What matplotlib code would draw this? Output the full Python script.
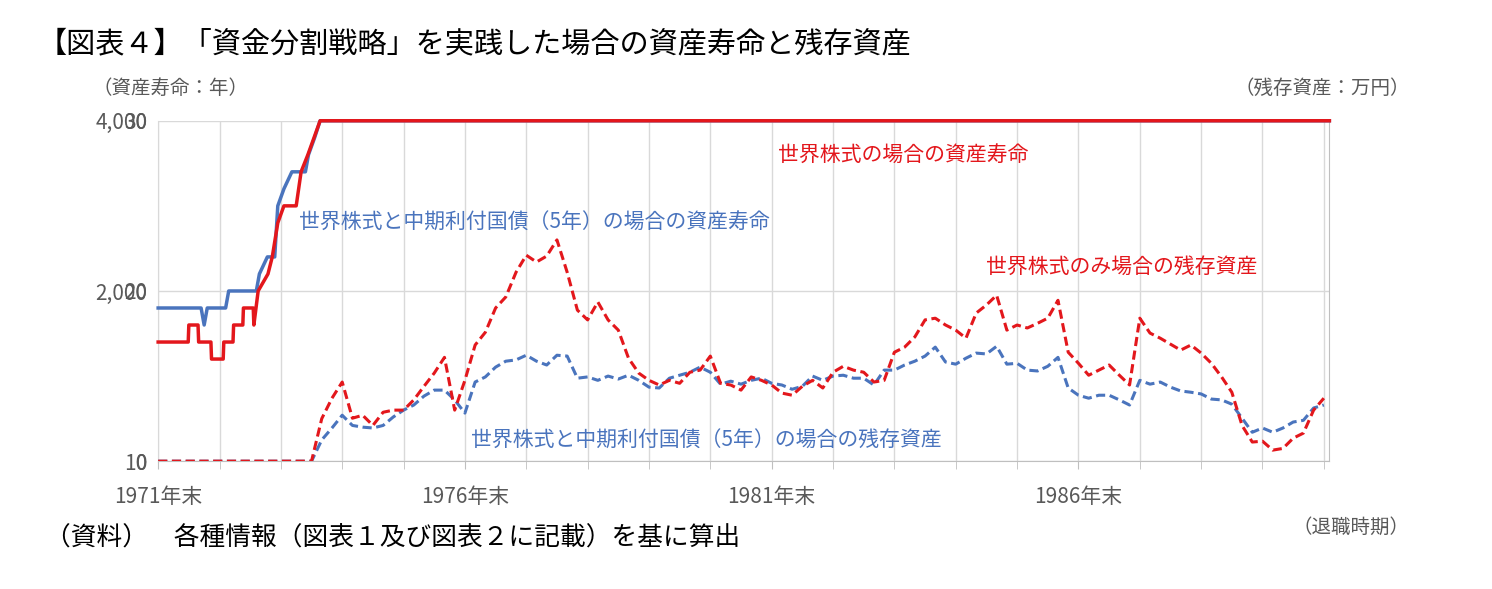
import numpy as np
import matplotlib
matplotlib.use("Agg")
import matplotlib.pyplot as plt

plt.rcParams["font.family"] = "Noto Sans CJK JP"

# lifespan (years since end-1971, asset life in years)
red_life_t = [0, 0.49, 0.50, 0.65, 0.66, 0.86, 0.87, 1.06, 1.07, 1.22, 1.23, 1.38, 1.39, 1.55, 1.56, 1.63, 1.79, 1.86, 1.95, 2.05, 2.25, 2.33, 2.44, 2.54, 2.64, 19.09]
red_life_v = [17, 17, 18, 18, 17, 17, 16, 16, 17, 17, 18, 18, 19, 19, 18, 20, 21, 22, 24, 25, 25, 27, 28, 29, 30, 30]
blue_life_t = [0, 0.70, 0.75, 0.80, 1.10, 1.15, 1.60, 1.65, 1.78, 1.90, 1.95, 2.05, 2.18, 2.40, 2.45, 2.55, 2.64, 19.09]
blue_life_v = [19, 19, 18, 19, 19, 20, 20, 21, 22, 22, 25, 26, 27, 27, 28, 29, 30, 30]

# remaining assets (万円), every 2 months starting 2.5 years after end-1971
rem_start = 2.5
red_rem = [0, 500, 740, 930, 505, 540, 420, 575, 600, 600, 720, 880, 1035, 1220, 600, 950, 1365, 1515, 1800, 1930,
           2220, 2420, 2340, 2410, 2600, 2220, 1775, 1660, 1870, 1660, 1540, 1210, 1035, 950, 895, 950, 915, 1045, 1070, 1235,
           915, 895, 835, 990, 950, 895, 800, 775, 880, 950, 860, 1045, 1115, 1070, 1045, 930, 950, 1280, 1340, 1460,
           1660, 1680, 1600, 1540, 1445, 1740, 1835, 1950, 1540, 1600, 1565, 1620, 1680, 1890, 1280, 1150, 1010, 1070, 1130, 1010,
           895, 1680, 1505, 1445, 1375, 1305, 1365, 1270, 1150, 990, 810, 420, 225, 235, 130, 150, 270, 330, 600, 740]
blue_rem = [0, 250, 390, 540, 420, 400, 390, 420, 520, 600, 660, 765, 835, 835, 720, 565, 930, 990, 1105, 1175,
            1190, 1245, 1175, 1130, 1245, 1235, 975, 990, 950, 1000, 965, 1010, 950, 870, 860, 975, 1010, 1045, 1105, 1045,
            905, 940, 905, 950, 975, 915, 895, 845, 880, 1000, 950, 1000, 1010, 975, 975, 895, 1070, 1070, 1130, 1175,
            1235, 1340, 1165, 1140, 1210, 1270, 1260, 1350, 1140, 1150, 1070, 1060, 1115, 1220, 860, 775, 740, 775, 775, 720,
            660, 950, 905, 930, 870, 825, 810, 790, 730, 720, 670, 505, 340, 390, 340, 390, 460, 480, 625, 660]
rem_t = rem_start + np.arange(len(red_rem)) / 6.0

xticks = [0, 5, 10, 15]
xticklabels = ["1971年末", "1976年末", "1981年末", "1986年末"]

RED = "#e3171c"
BLUE = "#4a74bd"
GRAY = "#595959"

fig = plt.figure(figsize=(14.92, 5.89), dpi=100)
ax = fig.add_axes([0.106, 0.217, 0.785, 0.578])
ax2 = ax.twinx()

ax.set_xlim(0, 19.09)
ax.set_ylim(10, 30)
ax2.set_ylim(0, 4000)
ax.set_yticks([10, 20, 30])
ax2.set_yticks([0, 2000, 4000])
ax2.set_yticklabels(["0", "2,000", "4,000"])
ax.set_xticks(xticks)
ax.set_xticklabels(xticklabels)
ax.set_xticks(np.arange(0, 20, 1), minor=True)
ax.grid(True, which="minor", axis="x", color="#d9d9d9", lw=1)
ax.grid(True, which="major", axis="x", color="#d9d9d9", lw=1)
ax.grid(True, axis="y", color="#d9d9d9", lw=1)
ax.set_axisbelow(True)

for a in (ax, ax2):
    for s in a.spines.values():
        s.set_visible(False)
    a.tick_params(axis="y", length=0, labelsize=15, labelcolor=GRAY, pad=8)
ax2.spines["right"].set_visible(True)
ax2.spines["right"].set_color("#bfbfbf")
ax.spines["left"].set_visible(True)
ax.spines["left"].set_color("#d9d9d9")
ax.spines["bottom"].set_visible(True)
ax.spines["bottom"].set_color("#bfbfbf")
ax.tick_params(axis="x", which="both", length=6, color="#bfbfbf", labelsize=15, labelcolor=GRAY, pad=12)

ax2.plot(np.r_[0, rem_t], np.r_[0, blue_rem], color=BLUE, lw=2.2, ls=(0, (3, 1.5)))
ax2.plot(np.r_[0, rem_t], np.r_[0, red_rem], color=RED, lw=2.2, ls=(0, (3, 1.5)))
# draw lifespan lines on top axes so they are not hidden
ax3 = ax2.twinx()
ax3.set_ylim(10, 30)
ax3.axis("off")
ax3.plot(blue_life_t, blue_life_v, color=BLUE, lw=2.5, zorder=3, clip_on=False)
ax3.plot(red_life_t, red_life_v, color=RED, lw=2.5, zorder=4, clip_on=False)

fs = 15
ax.text(10.1, 28.0, "世界株式の場合の資産寿命", color=RED, fontsize=fs, va="center")
ax.text(2.3, 24.0, "世界株式と中期利付国債（5年）の場合の資産寿命", color=BLUE, fontsize=fs, va="center")
ax.text(13.5, 21.4, "世界株式のみ場合の残存資産", color=RED, fontsize=fs, va="center")
ax.text(5.1, 11.2, "世界株式と中期利付国債（5年）の場合の残存資産", color=BLUE, fontsize=fs, va="center")

fig.text(0.025, 0.925, "【図表４】「資金分割戦略」を実践した場合の資産寿命と残存資産", fontsize=21, va="center")
fig.text(0.062, 0.85, "（資産寿命：年）", fontsize=14, color=GRAY, va="center")
fig.text(0.945, 0.85, "（残存資産：万円）", fontsize=14, color=GRAY, va="center", ha="right")
fig.text(0.945, 0.105, "（退職時期）", fontsize=14, color=GRAY, va="center", ha="right")
fig.text(0.03, 0.085, "（資料）　各種情報（図表１及び図表２に記載）を基に算出", fontsize=18.5, va="center")

fig.savefig("out.png", dpi=100)
